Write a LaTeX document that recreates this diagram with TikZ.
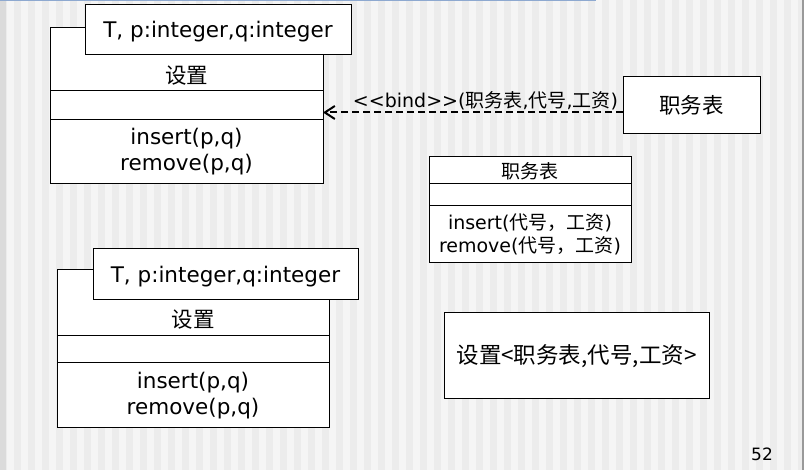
\documentclass[tikz,border=0pt]{standalone}
\usepackage{fontspec}
\setmainfont{DejaVu Sans}
\newfontfamily\cjk{Noto Sans CJK SC}
\usetikzlibrary{positioning,arrows.meta}
\definecolor{stripeA}{HTML}{ECECEC}
\definecolor{stripeB}{HTML}{F5F5F5}
\definecolor{topline}{HTML}{8EA9D0}
\newcommand{\umlfont}{\fontsize{21.5}{26}\selectfont}
\newcommand{\umlsmall}{\fontsize{19}{23}\selectfont}
\begin{document}
\begin{tikzpicture}[x=1pt,y=-1pt,
  comp/.style={rectangle,draw,fill=white,line width=1pt,inner sep=0pt,outer sep=0pt},
  tmpl/.style={comp,font=\umlfont,text depth=0.5pt},
  cname/.style={inner sep=0pt,font=\umlfont\cjk},
  bind/.style={line width=2pt,dash pattern=on 7pt off 4pt,-{Straight Barb[length=10pt,width=13pt,line width=2pt]}}]
\useasboundingbox (0,0) rectangle (804,470);
\fill[stripeB] (0,0) rectangle (804,470);
\foreach \i in {0,...,57}
  \fill[stripeA] (\i*14,0) rectangle (\i*14+7,470);
\fill[black!14] (0,0) rectangle (6,470);
\fill[black!40] (802,0) rectangle (804,470);
\fill[topline] (0,0) rectangle (596,1.5);
% upper template class
\node[comp,anchor=north west,minimum width=273pt,minimum height=63pt] (nameA) at (50,28) {};
\node[comp,below=0pt of nameA,minimum width=273pt,minimum height=29pt] (attA) {};
\node[comp,below=0pt of attA,minimum width=273pt,minimum height=64pt,align=center,font=\umlfont] (opsA) {insert(p,q)\\remove(p,q)};
\node[cname,above=6pt of nameA.south] (lblA) {设置};
\node[tmpl,anchor=north west,minimum width=266pt,minimum height=50pt] (parA) at (85,5) {T, p:integer,q:integer};
% lower template class
\node[comp,anchor=north west,minimum width=272pt,minimum height=66pt] (nameB) at (57,270) {};
\node[comp,below=0pt of nameB,minimum width=272pt,minimum height=27pt] (attB) {};
\node[comp,below=0pt of attB,minimum width=272pt,minimum height=65pt,align=center,font=\umlfont] (opsB) {insert(p,q)\\remove(p,q)};
\node[cname,above=7pt of nameB.south] (lblB) {设置};
\node[tmpl,anchor=north west,minimum width=265pt,minimum height=51pt] (parB) at (93,249) {T, p:integer,q:integer};
% bound class
\node[comp,anchor=north west,minimum width=202pt,minimum height=27pt,font=\umlsmall\cjk,text depth=0pt] (nameC) at (429,157) {职务表};
\node[comp,below=0pt of nameC,minimum width=202pt,minimum height=22pt] (attC) {};
\node[comp,below=0pt of attC,minimum width=202pt,minimum height=57pt,align=center,font=\umlsmall] (opsC) {insert({\cjk 代号，工资})\\remove({\cjk 代号，工资})};
\node[comp,anchor=north west,minimum width=137pt,minimum height=57pt,font=\umlfont\cjk] (tbl) at (623,77) {职务表};
\node[comp,anchor=north west,minimum width=265pt,minimum height=86pt,font=\fontsize{22.5}{27}\selectfont\cjk] (inst) at (444,313) {设置<职务表,代号,工资>};
\node[font=\fontsize{17}{20}\selectfont] (pnum) at (762,454) {52};
\draw[bind] ([yshift=-7pt]tbl.west) coordinate (bs) -- (bs -| attA.east)
  node[pos=0,anchor=south east,inner sep=0pt,xshift=-4pt,yshift=1.5pt,font=\umlsmall] (blbl) {<\kern0pt<bind>\kern0pt>({\cjk 职务表},{\cjk 代号},{\cjk 工资})};
\end{tikzpicture}
\end{document}
